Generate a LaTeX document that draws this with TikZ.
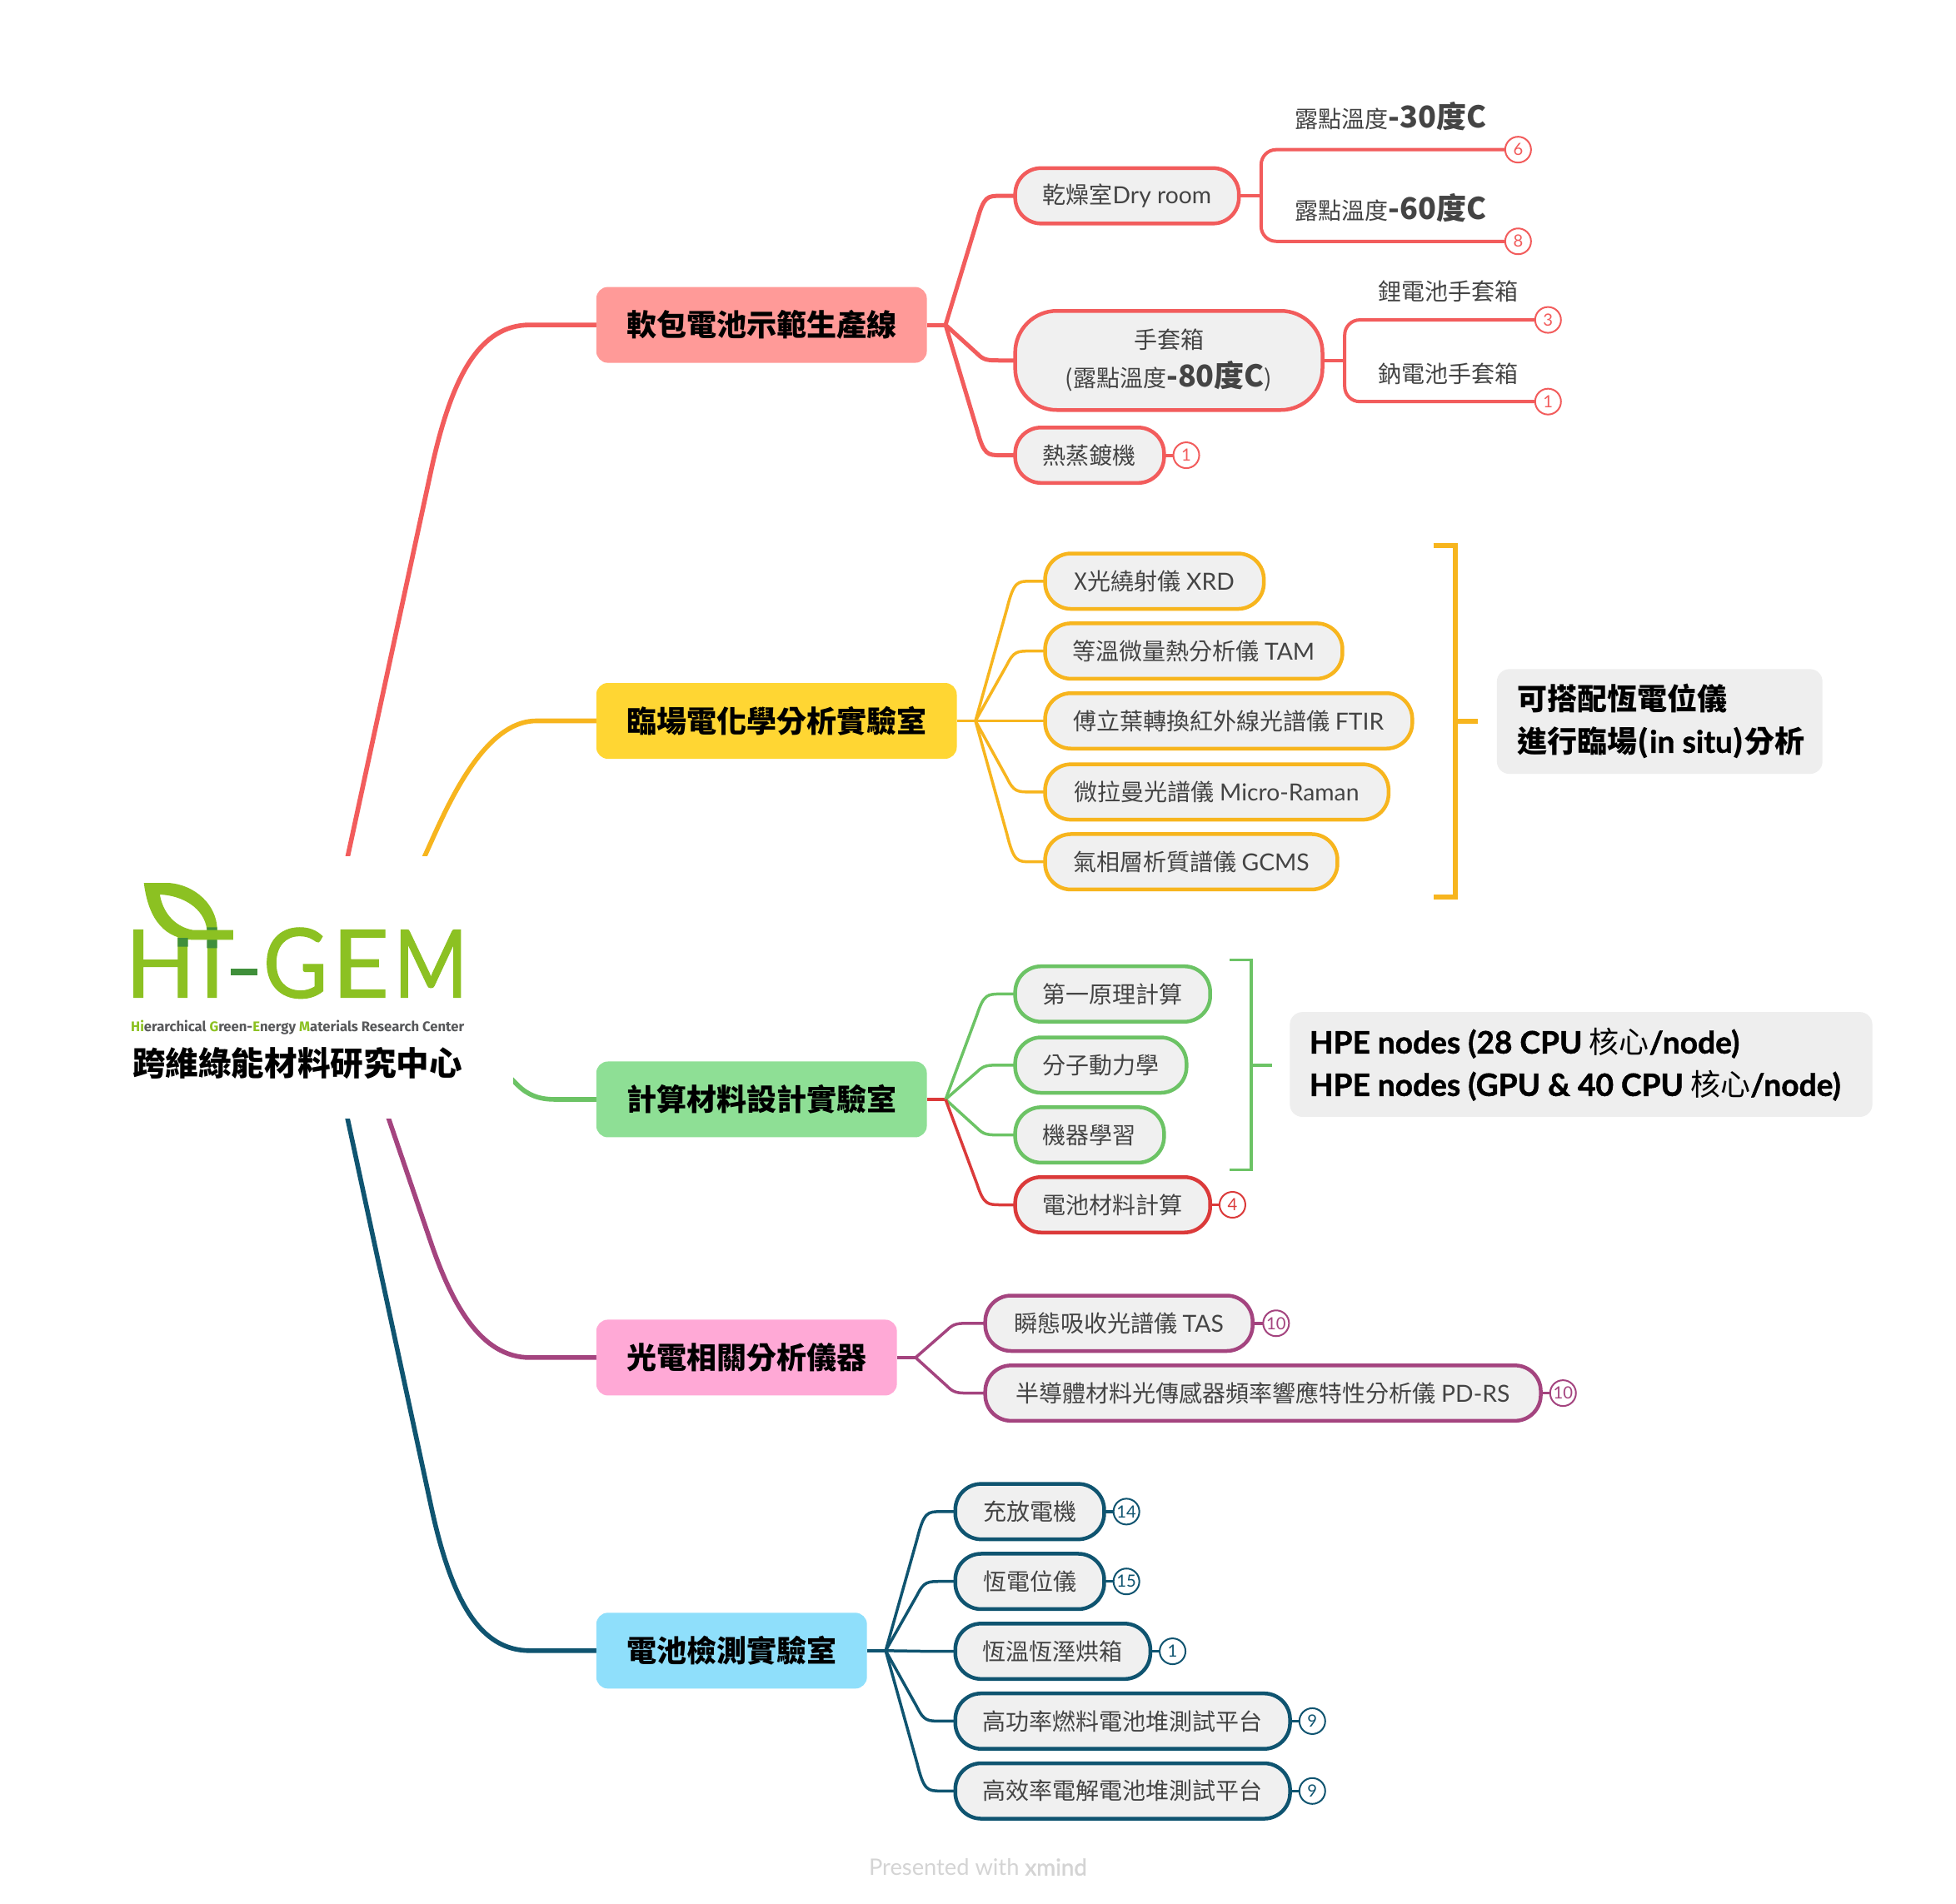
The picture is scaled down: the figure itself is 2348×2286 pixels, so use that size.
\documentclass[tikz,border=0pt]{standalone}
\usepackage{fontspec}
\usepackage{graphicx}
\setmainfont{Noto Sans CJK TC}
\newfontfamily\latf[Scale=1.01]{Lato}
\newfontfamily\latbf[Scale=1.03,FakeBold=1.2]{Lato}
\newfontfamily\logof[FakeBold=1]{Lato}
\newfontfamily\tagf{Fira Sans}
\usetikzlibrary{calc}
\pgfdeclarelayer{back}\pgfdeclarelayer{wires}\pgfsetlayers{back,wires,main}
\definecolor{cred}{HTML}{F25C5C}\definecolor{fred}{HTML}{FF9A98}
\definecolor{corg}{HTML}{F7B51E}\definecolor{forg}{HTML}{FFD633}
\definecolor{cgrn}{HTML}{6CC365}\definecolor{fgrn}{HTML}{8EDF95}
\definecolor{cpur}{HTML}{A4447F}\definecolor{fpur}{HTML}{FFA9D6}
\definecolor{ctea}{HTML}{0F5470}\definecolor{ftea}{HTML}{8FDFFB}
\definecolor{bred}{HTML}{DB3A3A}
\definecolor{txt}{HTML}{444444}\definecolor{pale}{HTML}{F0F0F0}\definecolor{notegrey}{HTML}{EEEEEE}
\definecolor{lgrn}{HTML}{8CC122}\definecolor{dgrn}{HTML}{3F8F3A}\definecolor{taggrey}{HTML}{58595B}
\newcommand\fs[2]{\fontsize{#1}{#2}\selectfont}
\newcommand\lat[1]{{\latf #1}}
\newcommand\latb[1]{{\latbf #1}}
\newcommand\topicnode[6]{\node[topicbox,fill=#5,minimum width={(#3-#2)*1.4974pt}] (#1) at ({(#2+#3)/2},#4) {#6};}
\newcommand\subnode[6]{\node[subbox,draw=#5,minimum width={(#3-#2)*1.4974pt-2.5pt}] (#1) at ({(#2+#3)/2},#4) {#6};}
\newcommand\badge[5]{\node[badgec,draw=#4,text=#4] (#1) at (#2,#3) {\lat{#5}};}
\newcommand\branch[3]{\draw[#1] let \p1=(#2),\p2=(#3) in (\p1) -- ({\x1+0.45*(\x2-\x1)},{\y1+0.8*(\y2-\y1)}) .. controls ({\x1+0.55*(\x2-\x1)},\y2) and ({\x1+0.6*(\x2-\x1)},\y2) .. ({\x1+0.8*(\x2-\x1)},\y2) -- (\p2);}
\tikzset{
 topicbox/.style={rectangle,rounded corners=14pt,minimum height=91pt,inner sep=0pt,outer sep=0pt,text=black,font=\fs{36}{48}\bfseries},
 subbox/.style={rectangle,rounded corners=31pt,minimum height=66.5pt,inner sep=0pt,outer sep=0pt,fill=pale,line width=4.5pt,text=txt,font=\fs{28}{40},align=center},
 badgec/.style={circle,minimum size=31pt,inner sep=0pt,outer sep=0pt,fill=white,line width=2pt,font=\fs{20}{24}},
 leaf/.style={inner sep=0pt,text=txt,font=\fs{28}{40}},
 notebox/.style={rectangle,rounded corners=15pt,fill=notegrey,inner sep=0pt,outer sep=0pt,text=black,font=\fs{36}{51}\bfseries,align=left},
 mainwire/.style={line width=5.6pt,draw=#1},
 wire/.style={line width=#1,line join=miter},
}
\begin{document}
\begin{tikzpicture}[x=1.4974pt,y=-1.4974pt]
\begin{pgfonlayer}{back}
\path[use as bounding box,fill=white] (0pt,0pt) rectangle (2348pt,-2286pt);
\end{pgfonlayer}

% hub of the map and masking centre topic
\coordinate (hub) at (256,792);
\node[fill=white,inner sep=0pt,outer sep=0pt,minimum width=482pt,minimum height=315pt] (center) at (250.5,792) {};

% main topics
\topicnode{t1}{478}{743}{260.5}{fred}{軟包電池示範生產線}
\topicnode{t2}{478}{767}{578}{forg}{臨場電化學分析實驗室}
\topicnode{t3}{478}{743}{881.5}{fgrn}{計算材料設計實驗室}
\topicnode{t4}{478}{719}{1088.5}{fpur}{光電相關分析儀器}
\topicnode{t5}{478}{695}{1323.5}{ftea}{電池檢測實驗室}

% soft-pack branch
\subnode{dry}{813}{994}{157}{cred}{乾燥室\lat{Dry room}}
\node[subbox,draw=cred,minimum width={248*1.4974pt-2.5pt},minimum height=119pt,rounded corners=50pt] (glove) at (937,289) {手套箱\\[6pt](露點溫度{\fs{36}{40}\bfseries -80度C})};
\subnode{evap}{813}{934}{365}{cred}{熱蒸鍍機}
\badge{b6}{1217}{120}{cred}{6}
\badge{b8}{1217}{193.5}{cred}{8}
\badge{b3}{1241}{256.5}{cred}{3}
\badge{b1a}{1241}{322}{cred}{1}
\badge{b1b}{951}{365}{cred}{1}
\node[leaf] (l30) at (1115,93.5) {露點溫度{\fs{36}{40}\bfseries -30度C}};
\node[leaf] (l60) at (1115,166.5) {露點溫度{\fs{36}{40}\bfseries -60度C}};
\node[leaf] (lli) at (1161,233.5) {鋰電池手套箱};
\node[leaf] (lna) at (1161,299.5) {鈉電池手套箱};

% in-situ branch
\subnode{xrd}{837}{1014}{466}{corg}{X光繞射儀 \lat{XRD}}
\subnode{tam}{837}{1077}{522}{corg}{等溫微量熱分析儀 \lat{TAM}}
\subnode{ftir}{837}{1133}{578}{corg}{傅立葉轉換紅外線光譜儀 \lat{FTIR}}
\subnode{raman}{837}{1114}{635}{corg}{微拉曼光譜儀 \lat{Micro-Raman}}
\subnode{gcms}{837}{1073}{691}{corg}{氣相層析質譜儀 \lat{GCMS}}
\node[notebox,minimum width={261*1.4974pt},minimum height={84*1.4974pt}] (insitu) at (1330.5,578.5) {\makebox[341pt][l]{可搭配恆電位儀}\\\makebox[341pt][l]{進行臨場(\latb{in situ})分析}};

% computation branch
\subnode{dft}{813}{971}{797}{cgrn}{第一原理計算}
\subnode{md}{813}{952}{854}{cgrn}{分子動力學}
\subnode{ml}{813}{934}{910}{cgrn}{機器學習}
\subnode{bat}{813}{971}{966}{bred}{電池材料計算}
\badge{b4}{988}{966}{bred}{4}
\node[notebox,minimum width={467*1.4974pt},minimum height={84*1.4974pt}] (hpe) at (1267.5,853.5) {\makebox[652pt][l]{\latb{HPE nodes (28 CPU} {\mdseries 核心}\latb{/node)}}\\\makebox[652pt][l]{\latb{HPE nodes (GPU \& 40 CPU} {\mdseries 核心}\latb{/node)}}};

% optoelectronic branch
\subnode{tas}{789}{1005}{1061}{cpur}{瞬態吸收光譜儀 \lat{TAS}}
\subnode{pdrs}{789}{1236}{1117}{cpur}{半導體材料光傳感器頻率響應特性分析儀 \lat{PD-RS}}
\badge{b10a}{1023}{1061}{cpur}{10}
\badge{b10b}{1253}{1117}{cpur}{10}

% battery-test branch
\subnode{cyc}{765}{886}{1212}{ctea}{充放電機}
\subnode{pot}{765}{886}{1268}{ctea}{恆電位儀}
\subnode{oven}{765}{923}{1324}{ctea}{恆溫恆溼烘箱}
\subnode{fc}{765}{1035}{1380}{ctea}{高功率燃料電池堆測試平台}
\subnode{ec}{765}{1035}{1436}{ctea}{高效率電解電池堆測試平台}
\badge{b14}{903}{1212}{ctea}{14}
\badge{b15}{903}{1268}{ctea}{15}
\badge{b1c}{940}{1324}{ctea}{1}
\badge{b9a}{1052}{1380}{ctea}{9}
\badge{b9b}{1052}{1436}{ctea}{9}

% footer
\node[text=black!17,font=\fs{27}{30}\latf,inner sep=0pt] (foot) at (784,1497) {Presented with {\latbf xmind}};

% logo
\begin{scope}[shift={(100pt,-1000pt)},x=0.3827pt,y=-0.3333pt]
 \node[inner sep=0pt,anchor=south west,text=lgrn] (logoH) at (132,593) {\resizebox{84pt}{81pt}{\logof H}};
 \node[inner sep=0pt,anchor=south west,text=lgrn] (logoI) at (366,593) {\resizebox{29pt}{81pt}{\logof I}};
 \node[inner sep=0pt,anchor=south west,text=lgrn] (logoG) at (563,597) {\resizebox{78pt}{84pt}{\logof G}};
 \node[inner sep=0pt,anchor=south west,text=lgrn] (logoE) at (779,593) {\resizebox{69pt}{81pt}{\logof E}};
 \node[inner sep=0pt,anchor=south west,text=lgrn] (logoM) at (973,593) {\resizebox{89pt}{81pt}{\logof M}};
 \fill[dgrn] (463,488) rectangle (547,512);
 \fill[lgrn,even odd rule] (190,180) -- (265,180) .. controls (350,185) and (420,260) .. (420,350) -- (470,350) -- (470,385) -- (340,385) .. controls (260,380) and (205,320) .. (190,180) -- cycle
   (240,222) .. controls (310,225) and (380,270) .. (388,350) -- (345,350) .. controls (290,340) and (250,290) .. (240,222) -- cycle;
 \fill[dgrn] (296,378) rectangle (328,410) (388,385) rectangle (420,415) (388,340) rectangle (420,350);
 \node[inner sep=0pt,anchor=center,text=taggrey] (tagline) at (672,700) {\resizebox{400pt}{!}{\tagf\fs{20}{24}\bfseries{\color{lgrn}Hi}erarchical {\color{lgrn}G}reen-{\color{lgrn}E}nergy {\color{lgrn}M}aterials Research Center}};
 \node[inner sep=0pt,anchor=center,text=black,font=\fs{39.6}{44}\bfseries] (cal) at (672,830) {跨維綠能材料研究中心};
\end{scope}

\begin{pgfonlayer}{wires}
 % main curves
 \draw[mainwire=cred] (hub) -- (345,380) .. controls (362,300) and (385,260.5) .. (425,260.5) -- (t1.west);
 \draw[mainwire=corg] (hub) .. controls (300,745) and (325,720) .. (340,687.5) .. controls (355,655) and (385,578) .. (430,578) -- (t2.west);
 \draw[mainwire=cgrn] (hub) .. controls (340,790) and (395,850) .. (415,870) .. controls (423,878) and (432,881.5) .. (445,881.5) -- (t3.west);
 \draw[mainwire=cpur] (hub) .. controls (285,835) and (300,862) .. (311.6,897) -- (345,995) .. controls (362,1045) and (385,1088.5) .. (425,1088.5) -- (t4.west);
 \draw[mainwire=ctea] (hub) -- (345,1205) .. controls (362,1285) and (385,1323.5) .. (425,1323.5) -- (t5.west);

 % soft-pack
 \coordinate (h1) at (758,260.5);
 \draw[wire=5pt,cred] (t1.east) -- (h1);
 \branch{wire=5pt,cred}{h1}{dry.west}
 \branch{wire=5pt,cred}{h1}{glove.west}
 \branch{wire=5pt,cred}{h1}{evap.west}
 \coordinate (jdry) at (1011,157);
 \coordinate (jglove) at (1078,289);
 \draw[wire=4.5pt,cred] (dry.east) -- (jdry);
 \draw[wire=4pt,cred,rounded corners=18pt] (b6.west) -| (jdry) |- (b8.west);
 \draw[wire=4.5pt,cred] (glove.east) -- (jglove);
 \draw[wire=4pt,cred,rounded corners=18pt] (b3.west) -| (jglove) |- (b1a.west);
 \draw[wire=4pt,cred] (evap.east) -- (b1b.west);

 % in-situ
 \coordinate (h2) at (782,578);
 \draw[wire=3.5pt,corg] (t2.east) -- (h2);
 \foreach \nd in {xrd,tam,ftir,raman,gcms}{\branch{wire=3.5pt,corg}{h2}{\nd.west}}
 \coordinate (tickA) at (1185,578);
 \draw[wire=6pt,corg] (1149,437.5) -- (1167,437.5) -- (1167,719.5) -- (1149,719.5);
 \draw[wire=6pt,corg] (1167,578) -- (tickA);

 % computation
 \coordinate (h3) at (758,881.5);
 \draw[wire=3.5pt,bred] (t3.east) -- (h3);
 \foreach \nd in {dft,md,ml}{\branch{wire=3.5pt,cgrn}{h3}{\nd.west}}
 \branch{wire=3.5pt,bred}{h3}{bat.west}
 \draw[wire=3.5pt,bred] (bat.east) -- (b4.west);
 \coordinate (tickB) at (1020,854);
 \draw[wire=3.5pt,cgrn] (986,769.5) -- (1003,769.5) -- (1003,938) -- (986,938);
 \draw[wire=3.5pt,cgrn] (1003,854) -- (tickB);

 % optoelectronic
 \coordinate (h4) at (734,1088.5);
 \draw[wire=3.5pt,cpur] (t4.east) -- (h4);
 \branch{wire=3.5pt,cpur}{h4}{tas.west}
 \branch{wire=3.5pt,cpur}{h4}{pdrs.west}
 \draw[wire=3.5pt,cpur] (tas.east) -- (b10a.west);
 \draw[wire=3.5pt,cpur] (pdrs.east) -- (b10b.west);

 % battery test
 \coordinate (h5) at (710,1323.5);
 \draw[wire=3.5pt,ctea] (t5.east) -- (h5);
 \foreach \nd in {cyc,pot,oven,fc,ec}{\branch{wire=3.5pt,ctea}{h5}{\nd.west}}
 \draw[wire=3.5pt,ctea] (cyc.east) -- (b14.west);
 \draw[wire=3.5pt,ctea] (pot.east) -- (b15.west);
 \draw[wire=3.5pt,ctea] (oven.east) -- (b1c.west);
 \draw[wire=3.5pt,ctea] (fc.east) -- (b9a.west);
 \draw[wire=3.5pt,ctea] (ec.east) -- (b9b.west);
\end{pgfonlayer}
\end{tikzpicture}
\end{document}
